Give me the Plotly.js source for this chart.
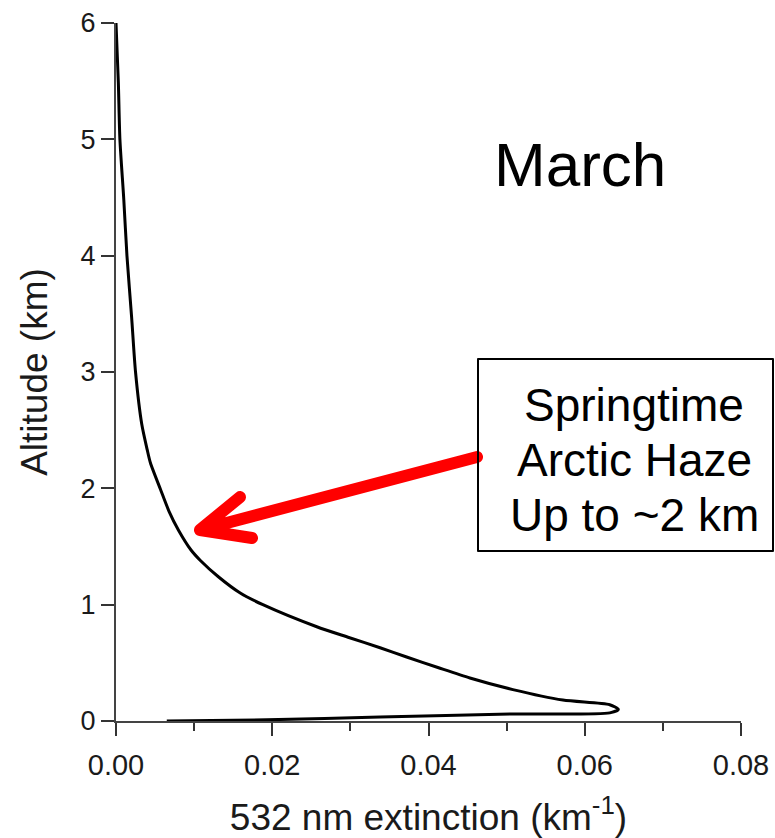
<!DOCTYPE html>
<html>
<head>
<meta charset="utf-8">
<script src="https://cdn.plot.ly/plotly-3.0.1.min.js"></script>
<style>html,body{margin:0;padding:0;background:#fff;}#chart{width:775px;height:838px;}</style>
</head>
<body>
<div id="chart"></div>
<script>
// Extinction profile (km^-1) vs altitude (km)
const extinction = [0.0000, 0.0003, 0.0005, 0.0010, 0.0014, 0.0020, 0.0025, 0.0033, 0.0040, 0.0044, 0.0057, 0.0068, 0.0080, 0.0096, 0.0108, 0.0131, 0.0159, 0.0188, 0.0257, 0.0297, 0.0338, 0.0372, 0.0412, 0.0453, 0.0508, 0.0572, 0.0632, 0.0643, 0.0632, 0.0508, 0.0338, 0.0193, 0.0065];
const altitude   = [6.00,   5.49,   5.00,   4.48,   4.00,   3.47,   3.00,   2.55,   2.33,   2.22,   1.99,   1.80,   1.64,   1.47,   1.38,   1.24,   1.10,   1.00,   0.81,   0.72,   0.63,   0.55,   0.46,   0.37,   0.27,   0.18,   0.14,   0.10,   0.07,   0.06,   0.035,  0.01,   0.00];

const xTickVals = [0, 0.02, 0.04, 0.06, 0.08];
const xTickText = ["0.00", "0.02", "0.04", "0.06", "0.08"];
const yTickVals = [0, 1, 2, 3, 4, 5, 6];

const monthLabel = "March";
const boxLines = ["Springtime", "Arctic Haze", "Up to ~2 km"];

const FONT = "Liberation Sans, Arial, sans-serif";

const trace = {
  x: extinction, y: altitude, type: "scatter", mode: "lines",
  line: {color: "#000", width: 3, shape: "spline", smoothing: 0.7}, hoverinfo: "skip", showlegend: false
};

// arrow geometry (data coordinates)
const tip = [0.01075, 1.642], start = [0.04621, 2.269];
const barb1 = [0.01587, 1.925], barb2 = [0.01741, 1.573];
const arrowPath = `M ${start[0]},${start[1]} L ${tip[0]},${tip[1]} M ${barb1[0]},${barb1[1]} L ${tip[0]},${tip[1]} L ${barb2[0]},${barb2[1]}`;

const boxY = [0.4527, 0.3739, 0.2951];

const layout = {
  width: 775, height: 838,
  margin: {l: 116, r: 34, t: 23, b: 117},
  paper_bgcolor: "#fff", plot_bgcolor: "#fff",
  font: {family: FONT, color: "#1a1a1a"},
  showlegend: false,
  xaxis: {
    range: [0, 0.08], tickvals: xTickVals, ticktext: xTickText,
    showgrid: false, zeroline: false, showline: true, linecolor: "#444", linewidth: 2,
    ticks: "outside", ticklen: 13, tickwidth: 2, tickcolor: "#333",
    minor: {ticks: "outside", ticklen: 8, tickwidth: 2, tickcolor: "#333", dtick: 0.01, tick0: 0, showgrid: false},
    tickfont: {size: 29, color: "#1a1a1a", family: FONT},
    ticklabelstandoff: 4,
    title: {text: "532 nm extinction (km<sup>-1</sup>)", font: {size: 37, color: "#1a1a1a", family: FONT}, standoff: 24},
    fixedrange: true, automargin: false, layer: "below traces"
  },
  yaxis: {
    range: [0, 6], tickvals: yTickVals,
    showgrid: false, zeroline: false, showline: true, linecolor: "#444", linewidth: 2,
    ticks: "outside", ticklen: 13, tickwidth: 2, tickcolor: "#333",
    tickfont: {size: 27, color: "#1a1a1a", family: FONT},
    title: {text: "Altitude (km)", font: {size: 37, color: "#1a1a1a", family: FONT}, standoff: 22},
    fixedrange: true, automargin: false, layer: "below traces"
  },
  shapes: [
    {type: "path", xref: "x", yref: "y", path: arrowPath, line: {color: "#ff0000", width: 12}},
    {type: "rect", xref: "paper", yref: "paper", x0: 0.5792, x1: 1.0512, y0: 0.2436, y1: 0.5186,
     line: {color: "#000", width: 2}, fillcolor: "rgba(0,0,0,0)"}
  ],
  annotations: [
    {text: monthLabel, xref: "paper", yref: "paper", x: 0.7424, y: 0.7966, xanchor: "center", yanchor: "middle",
     showarrow: false, font: {size: 62, color: "#000", family: FONT}}
  ].concat(boxLines.map((t, i) => ({
     text: t, xref: "paper", yref: "paper", x: 0.8288, y: boxY[i], xanchor: "center", yanchor: "middle",
     showarrow: false, font: {size: 46, color: "#000", family: FONT}
  })))
};

Plotly.newPlot("chart", [trace], layout, {staticPlot: true, displayModeBar: false}).then(() => {
  document.querySelectorAll(".shapelayer path").forEach(p => {
    p.style.strokeLinecap = "round";
    p.style.strokeLinejoin = "round";
  });
});
</script>
</body>
</html>
